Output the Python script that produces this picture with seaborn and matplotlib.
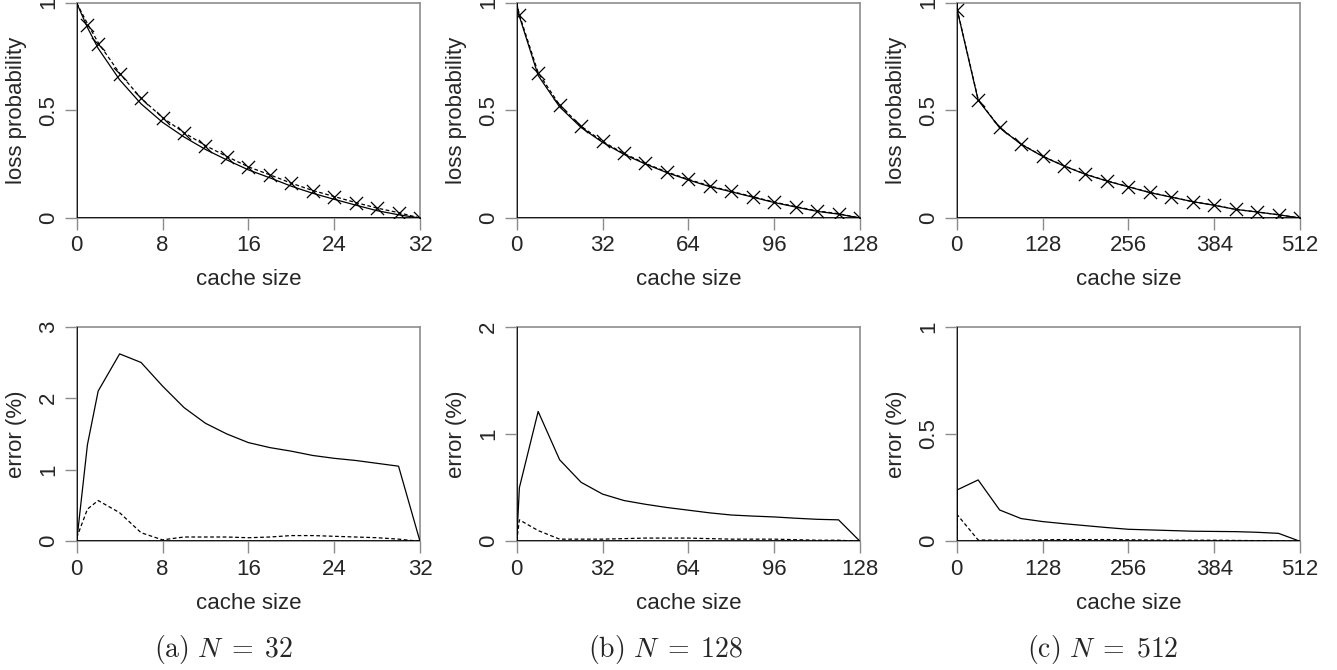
import matplotlib
matplotlib.use("Agg")
import matplotlib.pyplot as plt
import seaborn as sns

# ---- data ----
# N = 32
cache_32 = [0, 1, 2, 4, 6, 8, 10, 12, 14, 16, 18, 20, 22, 24, 26, 28, 30, 32]
sim_32 = [1.0, 0.90, 0.81, 0.669, 0.556, 0.467, 0.396, 0.336, 0.285, 0.238,
          0.200, 0.161, 0.127, 0.099, 0.071, 0.045, 0.025, 0.0]
model_32 = [1.0, 0.886, 0.789, 0.643, 0.531, 0.445, 0.377, 0.319, 0.270, 0.224,
            0.187, 0.148, 0.115, 0.087, 0.060, 0.034, 0.015, 0.0]
approx_32 = [1.0, 0.904, 0.816, 0.673, 0.557, 0.467, 0.397, 0.337, 0.286, 0.238,
             0.201, 0.162, 0.128, 0.100, 0.072, 0.046, 0.025, 0.0]
err_model_32 = [0, 1.35, 2.1, 2.62, 2.5, 2.17, 1.87, 1.65, 1.5, 1.38, 1.31, 1.26,
                1.2, 1.16, 1.13, 1.09, 1.05, 0]
err_approx_32 = [0.05, 0.45, 0.57, 0.40, 0.12, 0.02, 0.06, 0.06, 0.06, 0.05, 0.06,
                 0.08, 0.08, 0.07, 0.06, 0.05, 0.03, 0]

# N = 128
cache_128 = [0, 1, 8, 16, 24, 32, 40, 48, 56, 64, 72, 80, 88, 96, 104, 112, 120, 128]
sim_128 = [1.0, 0.943, 0.675, 0.525, 0.427, 0.356, 0.300, 0.254, 0.214, 0.180,
           0.149, 0.124, 0.099, 0.074, 0.053, 0.033, 0.020, 0.0]
model_128 = [1.0, 0.938, 0.663, 0.517, 0.421, 0.352, 0.296, 0.251, 0.211, 0.177,
             0.146, 0.122, 0.097, 0.072, 0.051, 0.031, 0.018, 0.0]
approx_128 = [1.0, 0.945, 0.676, 0.525, 0.427, 0.356, 0.300, 0.254, 0.214, 0.180,
              0.149, 0.124, 0.099, 0.074, 0.053, 0.033, 0.020, 0.0]
err_model_128 = [0, 0.5, 1.21, 0.76, 0.55, 0.44, 0.38, 0.345, 0.315, 0.29, 0.265,
                 0.245, 0.235, 0.227, 0.215, 0.205, 0.2, 0]
err_approx_128 = [0, 0.2, 0.1, 0.02, 0.02, 0.02, 0.025, 0.03, 0.03, 0.03, 0.025,
                  0.02, 0.02, 0.02, 0.015, 0.01, 0.01, 0]

# N = 512
cache_512 = [0, 1, 32, 64, 96, 128, 160, 192, 224, 256, 288, 320, 352, 384, 416,
             448, 480, 512]
sim_512 = [1.0, 0.966, 0.551, 0.421, 0.344, 0.288, 0.243, 0.204, 0.173, 0.146,
           0.119, 0.098, 0.076, 0.060, 0.040, 0.028, 0.015, 0.0]
model_512 = [1.0, 0.964, 0.548, 0.420, 0.343, 0.287, 0.242, 0.203, 0.172, 0.145,
             0.118, 0.097, 0.076, 0.059, 0.040, 0.028, 0.015, 0.0]
approx_512 = [1.0, 0.967, 0.551, 0.421, 0.344, 0.288, 0.243, 0.204, 0.173, 0.146,
              0.119, 0.098, 0.076, 0.060, 0.040, 0.028, 0.015, 0.0]
err_model_512 = [0, 0.24, 0.286, 0.146, 0.106, 0.092, 0.082, 0.073, 0.064, 0.056,
                 0.053, 0.05, 0.047, 0.046, 0.045, 0.042, 0.037, 0]
err_approx_512 = [0, 0.123, 0.006, 0.005, 0.005, 0.007, 0.008, 0.008, 0.008, 0.007,
                  0.006, 0.005, 0.005, 0.005, 0.004, 0.003, 0.002, 0]

panels = [
    ("a", 32, cache_32, sim_32, model_32, approx_32, err_model_32, err_approx_32,
     [0, 8, 16, 24, 32], 3, [0, 1, 2, 3], ["0", "1", "2", "3"]),
    ("b", 128, cache_128, sim_128, model_128, approx_128, err_model_128, err_approx_128,
     [0, 32, 64, 96, 128], 2, [0, 1, 2], ["0", "1", "2"]),
    ("c", 512, cache_512, sim_512, model_512, approx_512, err_model_512, err_approx_512,
     [0, 128, 256, 384, 512], 1, [0, 0.5, 1], ["0", "0.5", "1"]),
]

sns.set_style("white")
plt.rcParams["font.family"] = ["Liberation Sans", "DejaVu Sans"]
plt.rcParams["mathtext.fontset"] = "cm"

W, H = 1337, 670
fig = plt.figure(figsize=(W / 100, H / 100), dpi=100)

GREY = "#8c8c8c"
FS = 16


def style_axes(ax, xticks, xmax, yticks, yticklabels, ymax, ylabel):
    ax.set_xlim(0, xmax)
    ax.set_ylim(0, ymax)
    for s in ax.spines.values():
        s.set_color(GREY)
        s.set_linewidth(1.2)
    ax.axhline(0, color="black", lw=1.2, zorder=3)
    ax.axvline(0, color="black", lw=1.2, zorder=3)
    ax.set_xticks(xticks)
    ax.set_xticklabels([str(t) for t in xticks])
    ax.set_yticks(yticks)
    ax.set_yticklabels(yticklabels, rotation=90, va="center", ha="right")
    ax.tick_params(axis="both", direction="out", length=8.6, width=1.0,
                   color=GREY, labelsize=FS, pad=4, left=True, bottom=True)
    ax.set_xlabel("cache size", fontsize=FS, va="center")
    ax.set_ylabel(ylabel, fontsize=FS, va="center")
    ax.xaxis.set_label_coords(0.5, -0.288)
    ax.yaxis.set_label_coords(-0.174, 0.5)
    ax.grid(False)


lefts = [76.7, 516.7, 956.7]
aw = 343.3
cap_x = [224, 665, 1103]

for i, (tag, n, cs, sim, model, approx, em, ea, xt, ymax_e, yt_e, ytl_e) in enumerate(panels):
    # top: loss probability
    ax = fig.add_axes([lefts[i] / W, 1 - 218 / H, aw / W, 215 / H])
    sns.lineplot(x=cs, y=model, ax=ax, color="black", lw=0.9, zorder=4)
    sns.lineplot(x=cs, y=approx, ax=ax, color="black", lw=0.9, zorder=4,
                 linestyle=(0, (3, 2)))
    sns.scatterplot(x=cs[1:], y=sim[1:], ax=ax, marker="x", color="black",
                    s=90, linewidth=0.9, zorder=5)
    style_axes(ax, xt, n, [0, 0.5, 1], ["0", "0.5", "1"], 1, "loss probability")

    # bottom: error
    ax2 = fig.add_axes([lefts[i] / W, 1 - 541.3 / H, aw / W, 214.6 / H])
    sns.lineplot(x=cs, y=em, ax=ax2, color="black", lw=0.9, zorder=4)
    sns.lineplot(x=cs, y=ea, ax=ax2, color="black", lw=0.9, zorder=4,
                 linestyle=(0, (3, 2)))
    style_axes(ax2, xt, n, yt_e, ytl_e, ymax_e, "error (%)")

    fig.text(cap_x[i] / W, 1 - 650 / H,
             r"$\mathrm{(" + tag + r")}\ N\;=\;" + str(n) + "$",
             ha="center", va="center", fontsize=20)

fig.savefig("out.png", dpi=100)
